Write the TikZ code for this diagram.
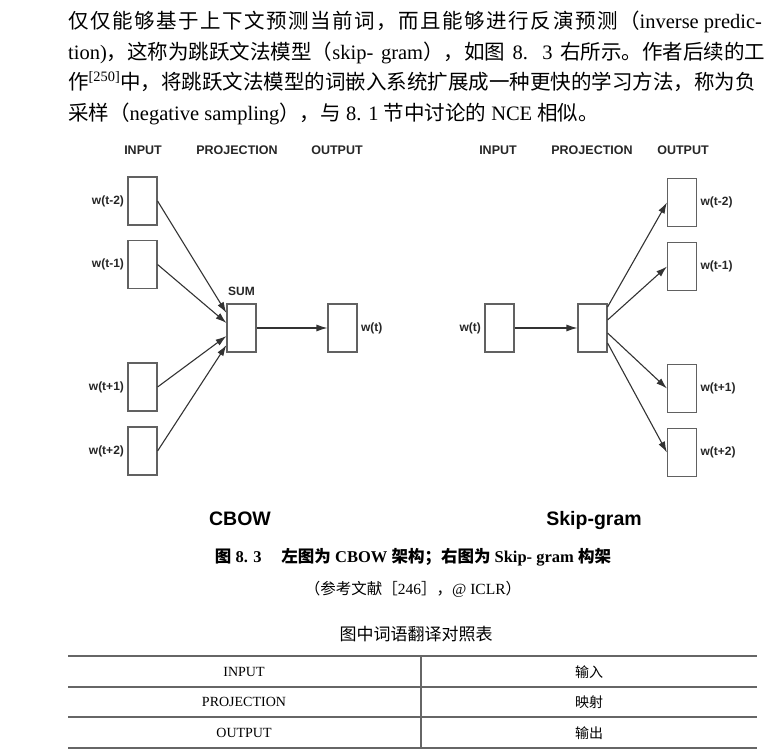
\documentclass[tikz,border=0pt]{standalone}
\usepackage{fontspec}
\setmainfont{Liberation Serif}
\setsansfont{Liberation Sans}
\newfontfamily\cjk{Noto Sans CJK SC}
\newfontfamily\cjkwide[LetterSpace=7.5]{Noto Sans CJK SC}
\newcommand\zh[1]{{\cjk #1}}
\usetikzlibrary{arrows.meta,calc,positioning}

\begin{document}
\begin{tikzpicture}[x=1pt,y=-1pt,>={Latex[length=11pt,width=7pt]},
  wbox/.style={draw=black!62,line width=1.1pt,minimum width=29pt,minimum height=48pt,inner sep=0pt},
  lbl/.style={font=\sffamily\bfseries\fontsize{12}{14}\selectfont,text=black!85},
  hdr/.style={anchor=base,font=\sffamily\bfseries\fontsize{12.5}{15}\selectfont,text=black!85},
  ttl/.style={anchor=base,font=\sffamily\bfseries\fontsize{19.5}{22}\selectfont},
  link/.style={->,line width=1.1pt,draw=black!80},
  body/.style={anchor=base west,inner sep=0pt,font=\fontsize{20.5}{25}\selectfont},
  cell/.style={font=\fontsize{14}{16}\selectfont},
  rule/.style={draw=black!60,line width=1.2pt}]
\useasboundingbox (0,0) rectangle (771,750);

% paragraph
\node[body] (p1) at (68,28) {{\cjkwide 仅仅能够基于上下文预测当前词，而且能够进行反演预测（}inverse predic-};
\node[body] (p2) at (68,59) {\makebox[697pt][s]{tion)\zh{，这称为跳跃文法模型（}skip- gram\zh{），如图} 8. 3 \zh{右所示。作者后续的工}}};
\node[body] (p3) at (68,89) {\makebox[697pt][s]{\zh{作}\textsuperscript{[250]}\zh{中，将跳跃文法模型的词嵌入系统扩展成一种更快的学习方法，称为负}}};
\node[body] (p4) at (68,120) {\zh{采样（}negative sampling\zh{），与} 8. 1 \zh{节中讨论的} NCE \zh{相似。}};

% CBOW
\node[hdr] (cin) at (143,154) {INPUT};
\node[hdr] (cproj) at (237,154) {PROJECTION};
\node[hdr] (cout) at (337,154) {OUTPUT};
\node[wbox,label={[lbl]left:w(t-2)}] (c1) at (142.5,201) {};
\node[wbox,label={[lbl]left:w(t-1)}] (c2) at (142.5,264.5) {};
\node[wbox,label={[lbl]left:w(t+1)}] (c3) at (142.5,387) {};
\node[wbox,label={[lbl]left:w(t+2)}] (c4) at (142.5,451) {};
\node[wbox,label={[lbl,label distance=4pt]above:SUM}] (sum) at (241.5,328) {};
\node[wbox,label={[lbl]right:w(t)}] (cw) at (342.5,328) {};
\draw[link] (c1.east) -- ($(sum.west)+(0,-15)$);
\draw[link] (c2.east) -- ($(sum.west)+(0,-5)$);
\draw[link] (c3.east) -- ($(sum.west)+(0,8)$);
\draw[link] (c4.east) -- ($(sum.west)+(0,17)$);
\draw[link] (sum.east) -- (cw.west);
\node[ttl] (cbow) at (240,525) {CBOW};

% Skip-gram
\node[hdr] (sin) at (498,154) {INPUT};
\node[hdr] (sproj) at (592,154) {PROJECTION};
\node[hdr] (sout) at (683,154) {OUTPUT};
\node[wbox,label={[lbl]left:w(t)}] (sw) at (499.5,328) {};
\node[wbox] (proj) at (592.5,328) {};
\node[wbox,label={[lbl]right:w(t-2)}] (s1) at (682,202.5) {};
\node[wbox,label={[lbl]right:w(t-1)}] (s2) at (682,266.5) {};
\node[wbox,label={[lbl]right:w(t+1)}] (s3) at (682,388.5) {};
\node[wbox,label={[lbl]right:w(t+2)}] (s4) at (682,452.5) {};
\draw[link] (sw.east) -- (proj.west);
\draw[link] ($(proj.east)+(0,-21)$) -- (s1.west);
\draw[link] ($(proj.east)+(0,-8)$) -- (s2.west);
\draw[link] ($(proj.east)+(0,5)$) -- (s3.west);
\draw[link] ($(proj.east)+(0,15)$) -- (s4.west);
\node[ttl] (skip) at (594,525) {Skip-gram};

% caption
\node[font=\bfseries\fontsize{16.5}{18}\selectfont] (cap) at (413,557) {\zh{图} 8. 3\hspace{1.2em}\zh{左图为} CBOW \zh{架构；右图为} Skip- gram \zh{构架}};
\node[font=\fontsize{15.5}{17}\selectfont] (src) at (413,589) {\zh{（参考文献［}246\zh{］，}@ ICLR\zh{）}};

% table
\node[font=\cjk\fontsize{17}{19}\selectfont] (tab) at (416,634) {图中词语翻译对照表};
\draw[rule,line width=2pt] (68,656) -- (757,656);
\draw[rule] (68,687) -- (757,687);
\draw[rule] (68,717) -- (757,717);
\draw[rule] (68,748) -- (757,748);
\draw[rule] (421,656) -- (421,748);
\node[cell] (t1) at (244,672) {INPUT};
\node[cell] (t2) at (589,672) {\zh{输入}};
\node[cell] (t3) at (244,702) {PROJECTION};
\node[cell] (t4) at (589,702) {\zh{映射}};
\node[cell] (t5) at (244,733) {OUTPUT};
\node[cell] (t6) at (589,733) {\zh{输出}};
\end{tikzpicture}
\end{document}
